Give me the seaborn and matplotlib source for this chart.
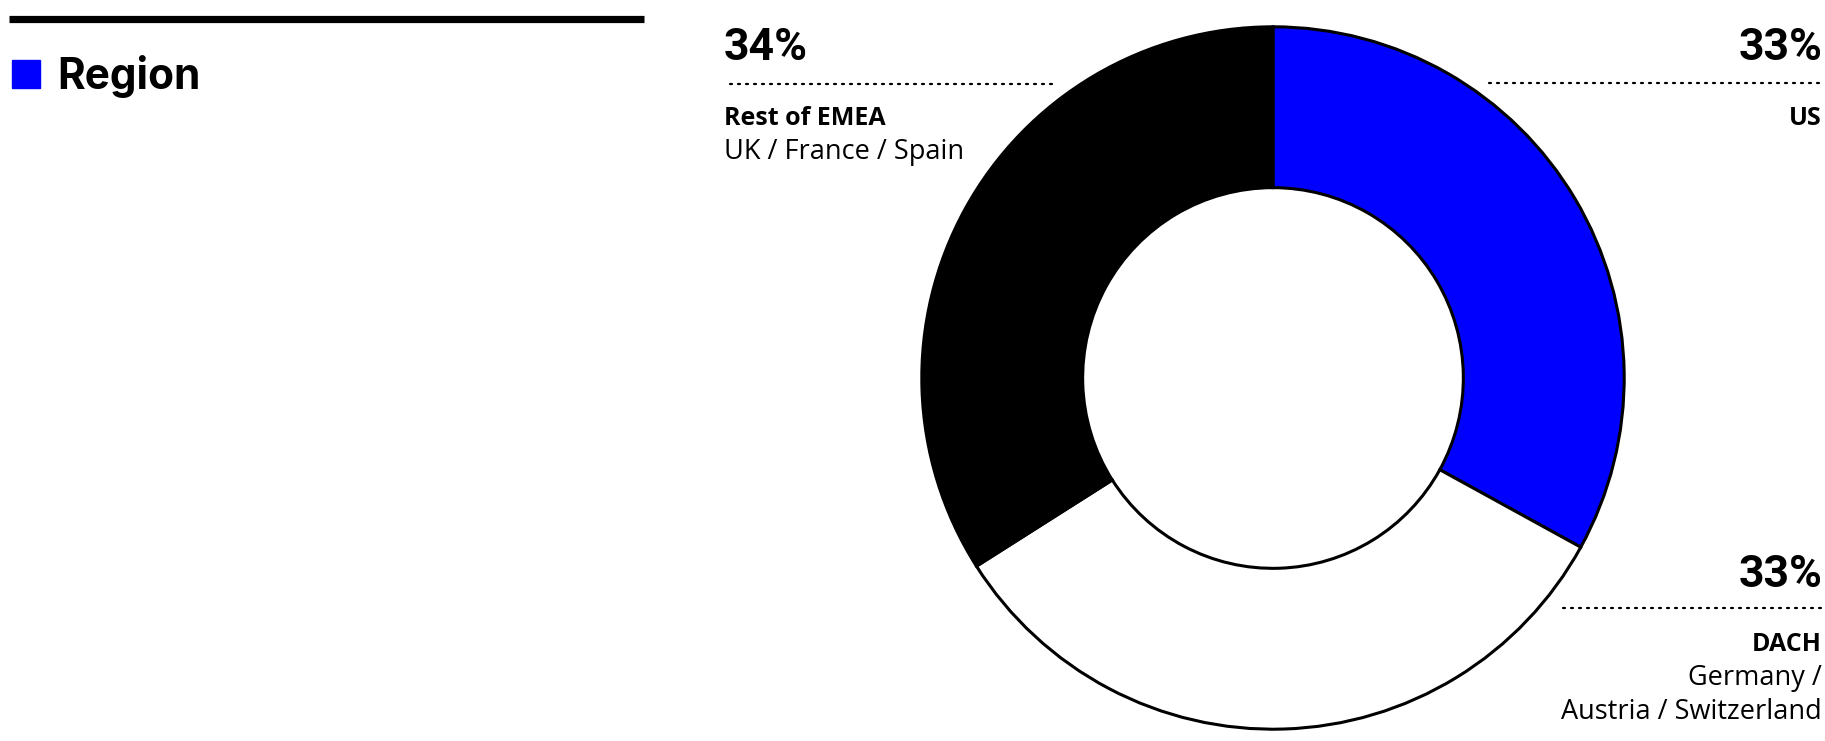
import matplotlib
matplotlib.use("Agg")
import matplotlib.pyplot as plt
from matplotlib.lines import Line2D
from matplotlib.patches import Rectangle
import seaborn as sns

# Revenue share by region
regions = ["US", "DACH", "Rest of EMEA"]
shares = [33, 33, 34]
subtitles = ["", "Germany /\nAustria / Switzerland", "UK / France / Spain"]
colors = ["#0000ff", "#ffffff", "#000000"]
legend_title = "Region"

sns.set_theme(style="white")
plt.rcParams["font.family"] = ["Roboto", "DejaVu Sans"]

W, H = 1825, 741
fig = plt.figure(figsize=(W / 100, H / 100), dpi=100)
fig.patch.set_facecolor("white")


def fx(px):
    return px / W


def fy(py):
    return 1 - py / H


# donut
cx, cy, r = 1273, 378, 354
ax = fig.add_axes([fx(cx - r), fy(cy + r), 2 * r / W, 2 * r / H])
ax.pie(shares, colors=colors, startangle=90, counterclock=False, radius=1,
       wedgeprops=dict(width=0.458, edgecolor="black", linewidth=2.2))
ax.set_xlim(-1.008, 1.008)
ax.set_ylim(-1.008, 1.008)
ax.set_aspect("equal")
ax.axis("off")

# header rule and legend key
fig.add_artist(Line2D([fx(9), fx(644)], [fy(18.5), fy(18.5)], color="black",
                      linewidth=5.2, solid_capstyle="butt"))
fig.add_artist(Rectangle((fx(12), fy(88)), 28 / W, 28 / H, color="#0000ff",
                         transform=fig.transFigure))
fig.text(fx(57), fy(89), legend_title, fontsize=30.5, fontweight="bold",
         va="baseline", ha="left", color="black",
         family=["Inter", "DejaVu Sans"])


def dotted(x0, x1, y):
    fig.add_artist(Line2D([fx(x0), fx(x1)], [fy(y), fy(y)], color="black",
                          linewidth=1.6, linestyle=(0, (0.9, 2.7)),
                          dash_capstyle="round"))


label_font = ["Open Sans", "DejaVu Sans"]

# callout layout: (anchor x, align, pct baseline, rule y, rule span, name baseline)
layout = {
    "Rest of EMEA": (724, "left", 60, 84, (730, 1053), 125),
    "US": (1822, "right", 60, 83, (1489, 1822), 125),
    "DACH": (1822, "right", 587, 608, (1563, 1822), 651),
}

for name, share, sub in zip(regions, shares, subtitles):
    x, ha, yp, yr, (x0, x1), yn = layout[name]
    fig.text(fx(x), fy(yp), f"{share}%", fontsize=32, fontweight="bold",
             ha=ha, va="baseline", color="black")
    dotted(x0, x1, yr)
    fig.text(fx(x), fy(yn), name, fontsize=18, fontweight="bold",
             ha=ha, va="baseline", color="black", family=label_font)
    for i, line in enumerate(sub.split("\n") if sub else []):
        fig.text(fx(x), fy(yn + 34 + i * 34), line, fontsize=19.5,
                 ha=ha, va="baseline", color="black", family=label_font)

fig.savefig("out.png", dpi=100, facecolor="white")
